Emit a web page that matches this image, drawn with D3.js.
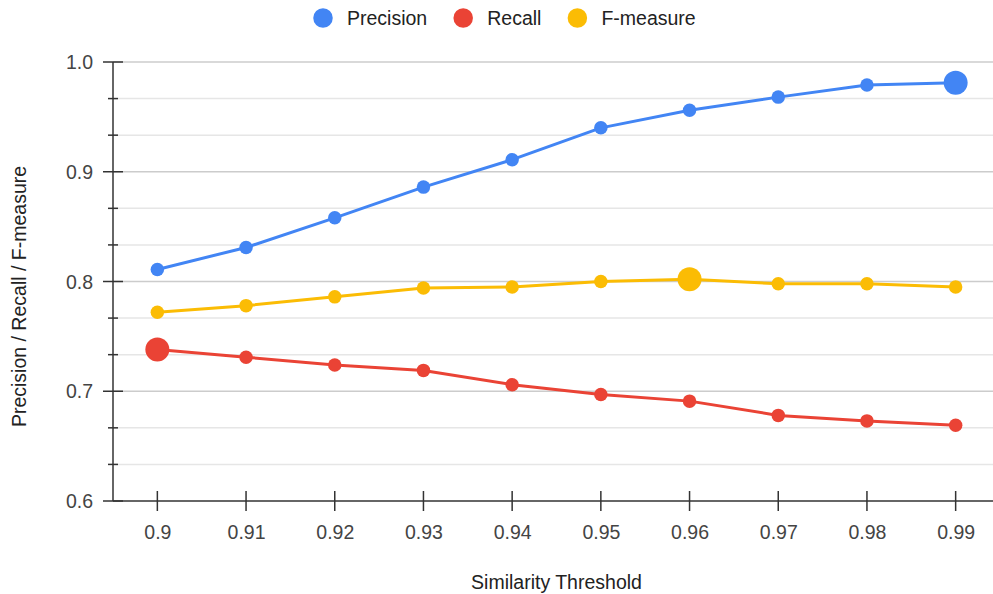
<!DOCTYPE html>
<html>
<head>
<meta charset="utf-8">
<script src="https://cdn.jsdelivr.net/npm/d3@7"></script>
<style>
  html, body { margin: 0; padding: 0; background: #fff; }
  svg { display: block; font-family: "Liberation Sans", Arial, sans-serif; }
</style>
</head>
<body>
<svg id="chart" width="993" height="594"></svg>
<script>
// Similarity threshold values on the x axis
const thresholds = ["0.9", "0.91", "0.92", "0.93", "0.94", "0.95", "0.96", "0.97", "0.98", "0.99"];

// Series values
const precision = [0.811, 0.831, 0.858, 0.886, 0.911, 0.940, 0.956, 0.968, 0.979, 0.981];
const recall    = [0.738, 0.731, 0.724, 0.719, 0.706, 0.697, 0.691, 0.678, 0.673, 0.669];
const fMeasure  = [0.772, 0.778, 0.786, 0.794, 0.795, 0.800, 0.802, 0.798, 0.798, 0.795];

// Y axis tick labels
const yMajorTicks = [0.6, 0.7, 0.8, 0.9, 1.0];
const seriesNames = ["Precision", "Recall", "F-measure"];
const seriesColors = ["#4285F4", "#EA4335", "#FBBC04"];

const series = [precision, recall, fMeasure].map((values, i) => ({
  name: seriesNames[i], color: seriesColors[i], values
}));

const W = 993, H = 594;
const plot = { left: 113, right: 1000, top: 62, bottom: 501 };
const FONT = 19.5;

const svg = d3.select("#chart");

const x = d3.scalePoint().domain(thresholds).range([plot.left, plot.right]).padding(0.5);
const y = d3.scaleLinear().domain([0.6, 1.0]).range([plot.bottom, plot.top]);

// Minor ticks: thirds between each major tick
const yMinorTicks = [];
for (let i = 0; i < yMajorTicks.length - 1; i++) {
  const a = yMajorTicks[i], b = yMajorTicks[i + 1];
  yMinorTicks.push(a + (b - a) / 3, a + 2 * (b - a) / 3);
}

// Gridlines
const grid = svg.append("g");
grid.selectAll("line.minor").data(yMinorTicks).join("line")
  .attr("x1", plot.left).attr("x2", W)
  .attr("y1", d => y(d)).attr("y2", d => y(d))
  .attr("stroke", "#e6e6e6").attr("stroke-width", 1.5);
grid.selectAll("line.major").data(yMajorTicks.filter(d => d > 0.6)).join("line")
  .attr("x1", plot.left).attr("x2", W)
  .attr("y1", d => y(d)).attr("y2", d => y(d))
  .attr("stroke", "#cccccc").attr("stroke-width", 1.5);

// Y axis
const yAxis = svg.append("g").attr("transform", `translate(${plot.left},0)`)
  .call(d3.axisLeft(y).tickValues(yMajorTicks).tickFormat(d3.format(".1f")).tickSize(0).tickPadding(20));
yAxis.select(".domain").remove();
yAxis.selectAll("text")
  .attr("font-size", FONT).attr("fill", "#444")
  .attr("font-family", "Liberation Sans, Arial, sans-serif")
  .attr("dy", "0.34em");
svg.append("line")
  .attr("x1", plot.left).attr("x2", plot.left)
  .attr("y1", plot.top).attr("y2", plot.bottom)
  .attr("stroke", "#333").attr("stroke-width", 1.5);
svg.append("g").selectAll("line").data(yMajorTicks).join("line")
  .attr("x1", plot.left - 10).attr("x2", plot.left + 10)
  .attr("y1", d => y(d)).attr("y2", d => y(d))
  .attr("stroke", "#333").attr("stroke-width", 1.5);
svg.append("g").selectAll("line").data(yMinorTicks).join("line")
  .attr("x1", plot.left - 5).attr("x2", plot.left + 5)
  .attr("y1", d => y(d)).attr("y2", d => y(d))
  .attr("stroke", "#333").attr("stroke-width", 1.5);

// X axis
const xAxis = svg.append("g").attr("transform", `translate(0,${plot.bottom})`)
  .call(d3.axisBottom(x).tickSize(0).tickPadding(24));
xAxis.select(".domain").remove();
xAxis.selectAll("text")
  .attr("font-size", FONT).attr("fill", "#444")
  .attr("font-family", "Liberation Sans, Arial, sans-serif");
svg.append("line")
  .attr("x1", plot.left).attr("x2", W)
  .attr("y1", plot.bottom).attr("y2", plot.bottom)
  .attr("stroke", "#333").attr("stroke-width", 1.5);
svg.append("g").selectAll("line").data(thresholds).join("line")
  .attr("x1", d => x(d)).attr("x2", d => x(d))
  .attr("y1", plot.bottom - 10).attr("y2", plot.bottom + 10)
  .attr("stroke", "#333").attr("stroke-width", 1.5);

// Axis titles
svg.append("text")
  .attr("x", (plot.left + plot.right) / 2).attr("y", 589)
  .attr("text-anchor", "middle").attr("font-size", FONT).attr("fill", "#222")
  .text("Similarity Threshold");
svg.append("text")
  .attr("transform", `translate(25.5,296.5) rotate(-90)`)
  .attr("text-anchor", "middle").attr("font-size", FONT).attr("fill", "#222")
  .text("Precision / Recall / F-measure");

// Lines and points; each series' highest value gets a larger marker
const line = d3.line().x((d, i) => x(thresholds[i])).y(d => y(d));
series.forEach(s => {
  const g = svg.append("g");
  g.append("path").datum(s.values)
    .attr("d", line).attr("fill", "none")
    .attr("stroke", s.color).attr("stroke-width", 3)
    .attr("stroke-linejoin", "round");
  const maxIdx = d3.maxIndex(s.values);
  g.selectAll("circle").data(s.values).join("circle")
    .attr("cx", (d, i) => x(thresholds[i]))
    .attr("cy", d => y(d))
    .attr("r", (d, i) => i === maxIdx ? 12 : 6.75)
    .attr("fill", s.color);
});

// Legend
const legend = svg.append("g");
let cx = 323;
series.forEach(s => {
  legend.append("circle").attr("cx", cx).attr("cy", 18).attr("r", 9.75).attr("fill", s.color);
  const t = legend.append("text")
    .attr("x", cx + 24).attr("y", 25)
    .attr("font-size", FONT).attr("fill", "#222")
    .text(s.name);
  const w = t.node().getComputedTextLength();
  cx = cx + 24 + w + 36;
});
</script>
</body>
</html>
